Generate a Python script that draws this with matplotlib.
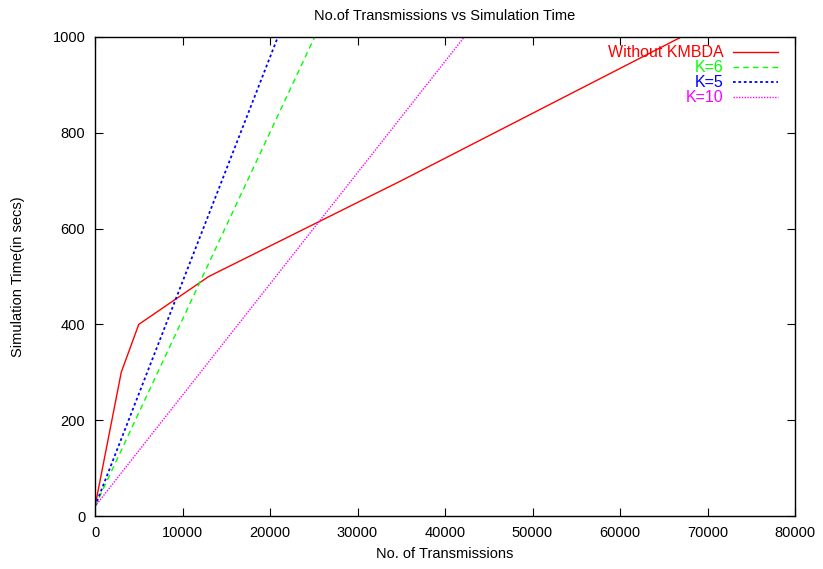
import numpy as np
import matplotlib.pyplot as plt

plt.rcParams['font.family'] = ['Liberation Sans', 'DejaVu Sans']

# data
x_without = [0, 3000, 5000, 13000, 35000, 67000]
y_without = [20, 300, 400, 500, 700, 1000]
x_k6 = [0, 25100]
y_k6 = [20, 1000]
x_k5 = [0, 20900]
y_k5 = [20, 1000]
x_k10 = [0, 42200]
y_k10 = [20, 1000]

fig = plt.figure(figsize=(8.23, 5.69), dpi=100)
ax = fig.add_axes([95 / 823, 1 - 516 / 569, 700 / 823, 479 / 569])

ax.plot(x_without, y_without, color='#ff0000', lw=1, label='Without KMBDA')
ax.plot(x_k6, y_k6, color='#00ff00', lw=1, dashes=(4, 3), label='K=6')
ax.plot(x_k5, y_k5, color='#0000ff', lw=1.3, dashes=(1.5, 1.5), label='K=5')
ax.plot(x_k10, y_k10, color='#ff00ff', lw=1, dashes=(1, 1), label='K=10')

ax.set_xlim(0, 80000)
ax.set_ylim(0, 1000)
ax.set_xticks(np.arange(0, 80001, 10000))
ax.set_yticks(np.arange(0, 1001, 200))
ax.tick_params(direction='in', top=True, right=True, length=6, labelsize=10.5, pad=7)
for s in ax.spines.values():
    s.set_linewidth(1)

ax.set_title('No.of Transmissions vs Simulation Time', fontsize=10.5, pad=12)
ax.set_xlabel('No. of Transmissions', fontsize=10.5, labelpad=5)
ax.set_ylabel('Simulation Time(in secs)', fontsize=10.5, labelpad=20)

leg = ax.legend(loc='upper right', bbox_to_anchor=(0.985, 0.996), frameon=False,
                markerfirst=False, labelcolor='linecolor', fontsize=11.5,
                handlelength=2.8, labelspacing=0.0, borderaxespad=0,
                handletextpad=0.62)

plt.savefig('out.png', dpi=100)
